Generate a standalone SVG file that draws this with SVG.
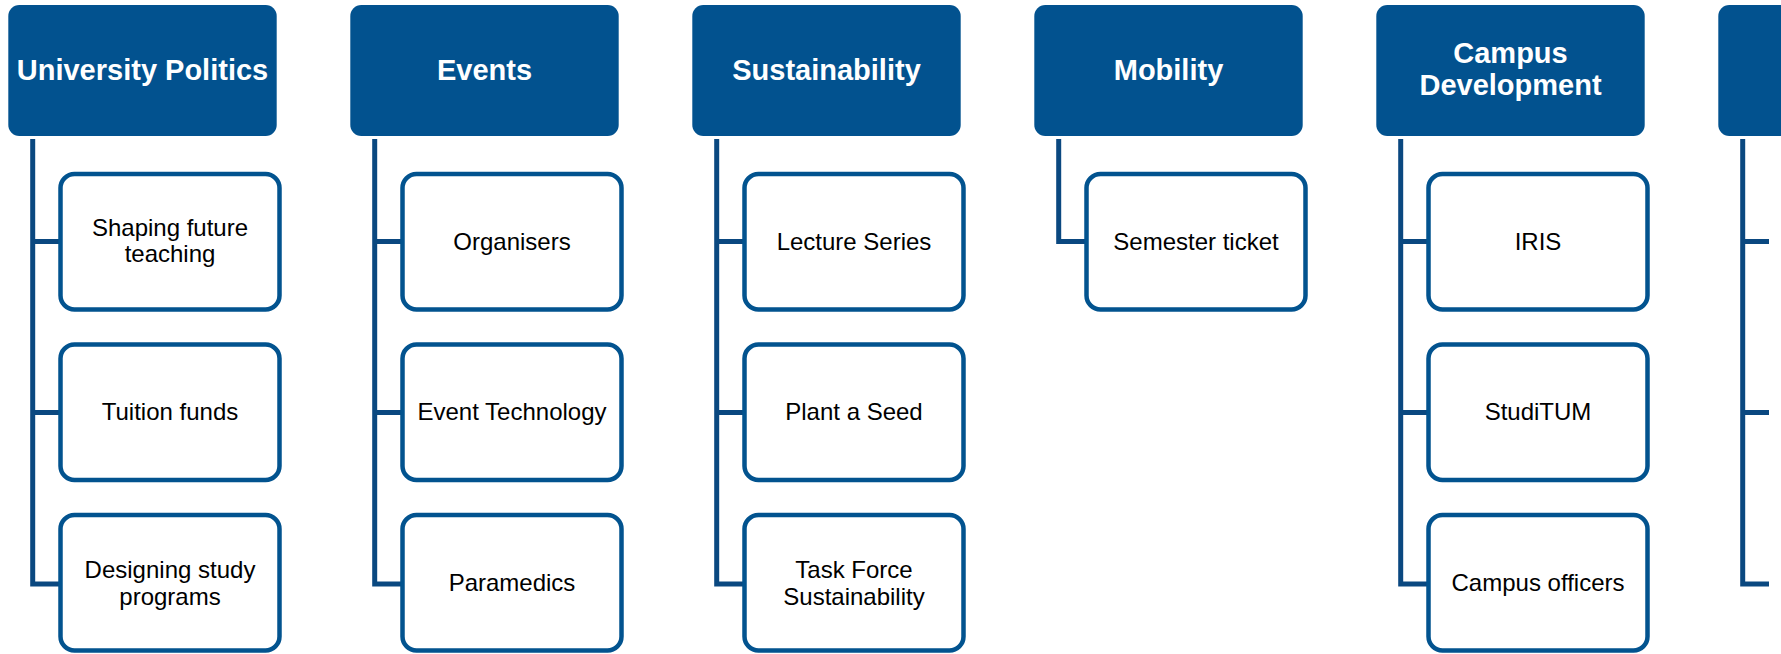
<svg xmlns="http://www.w3.org/2000/svg" width="1781" height="654" viewBox="0 0 1781 654">
<style>
.hdr{fill:#02528F;}
.hdrt{font-family:"Liberation Sans",Arial,sans-serif;font-weight:bold;font-size:29px;fill:#ffffff;text-anchor:middle;}
.box{fill:#ffffff;stroke:#02538F;stroke-width:4.5;}
.boxt{font-family:"Liberation Sans",Arial,sans-serif;font-size:24px;fill:#000000;text-anchor:middle;}
.con{fill:none;stroke:#0A4880;stroke-width:5;stroke-linejoin:miter;}
</style>
<rect width="1781" height="654" fill="#ffffff"/>
<g id="connectors">
<path class="con" d="M32.7,139 V584 H60 M32.7,241.5 H60 M32.7,412.5 H60"/>
<path class="con" d="M374.7,139 V584 H402 M374.7,241.5 H402 M374.7,412.5 H402"/>
<path class="con" d="M716.7,139 V584 H744 M716.7,241.5 H744 M716.7,412.5 H744"/>
<path class="con" d="M1058.7,139 V241.5 H1086"/>
<path class="con" d="M1400.7,139 V584 H1428 M1400.7,241.5 H1428 M1400.7,412.5 H1428"/>
<path class="con" d="M1742.7,139 V584 H1769 M1742.7,241.5 H1769 M1742.7,412.5 H1769"/>
</g>
<g id="h1"><rect class="hdr" x="8.3" y="5" width="268.4" height="131" rx="11"/><text class="hdrt" x="142.5" y="79.5">University Politics</text></g>
<g id="h2"><rect class="hdr" x="350.3" y="5" width="268.4" height="131" rx="11"/><text class="hdrt" x="484.5" y="79.5">Events</text></g>
<g id="h3"><rect class="hdr" x="692.3" y="5" width="268.4" height="131" rx="11"/><text class="hdrt" x="826.5" y="79.5">Sustainability</text></g>
<g id="h4"><rect class="hdr" x="1034.3" y="5" width="268.4" height="131" rx="11"/><text class="hdrt" x="1168.5" y="79.5">Mobility</text></g>
<g id="h5"><rect class="hdr" x="1376.3" y="5" width="268.4" height="131" rx="11"/><text class="hdrt" x="1510.5" y="63">Campus</text><text class="hdrt" x="1510.5" y="94.5">Development</text></g>
<g id="h6"><rect class="hdr" x="1718.3" y="5" width="268.4" height="131" rx="11"/></g>
<g id="c1a"><rect class="box" x="60.5" y="174" width="219" height="135.5" rx="14"/><text class="boxt" x="170" y="235.5">Shaping future</text><text class="boxt" x="170" y="262.2">teaching</text></g>
<g id="c1b"><rect class="box" x="60.5" y="344.5" width="219" height="135.5" rx="14"/><text class="boxt" x="170" y="420">Tuition funds</text></g>
<g id="c1c"><rect class="box" x="60.5" y="515" width="219" height="135.5" rx="14"/><text class="boxt" x="170" y="577.8">Designing study</text><text class="boxt" x="170" y="604.5">programs</text></g>
<g id="c2a"><rect class="box" x="402.5" y="174" width="219" height="135.5" rx="14"/><text class="boxt" x="512" y="249.5">Organisers</text></g>
<g id="c2b"><rect class="box" x="402.5" y="344.5" width="219" height="135.5" rx="14"/><text class="boxt" x="512" y="420">Event Technology</text></g>
<g id="c2c"><rect class="box" x="402.5" y="515" width="219" height="135.5" rx="14"/><text class="boxt" x="512" y="590.5">Paramedics</text></g>
<g id="c3a"><rect class="box" x="744.5" y="174" width="219" height="135.5" rx="14"/><text class="boxt" x="854" y="249.5">Lecture Series</text></g>
<g id="c3b"><rect class="box" x="744.5" y="344.5" width="219" height="135.5" rx="14"/><text class="boxt" x="854" y="420">Plant a Seed</text></g>
<g id="c3c"><rect class="box" x="744.5" y="515" width="219" height="135.5" rx="14"/><text class="boxt" x="854" y="577.8">Task Force</text><text class="boxt" x="854" y="604.5">Sustainability</text></g>
<g id="c4a"><rect class="box" x="1086.5" y="174" width="219" height="135.5" rx="14"/><text class="boxt" x="1196" y="249.5">Semester ticket</text></g>
<g id="c5a"><rect class="box" x="1428.5" y="174" width="219" height="135.5" rx="14"/><text class="boxt" x="1538" y="249.5">IRIS</text></g>
<g id="c5b"><rect class="box" x="1428.5" y="344.5" width="219" height="135.5" rx="14"/><text class="boxt" x="1538" y="420">StudiTUM</text></g>
<g id="c5c"><rect class="box" x="1428.5" y="515" width="219" height="135.5" rx="14"/><text class="boxt" x="1538" y="590.5">Campus officers</text></g>
</svg>
